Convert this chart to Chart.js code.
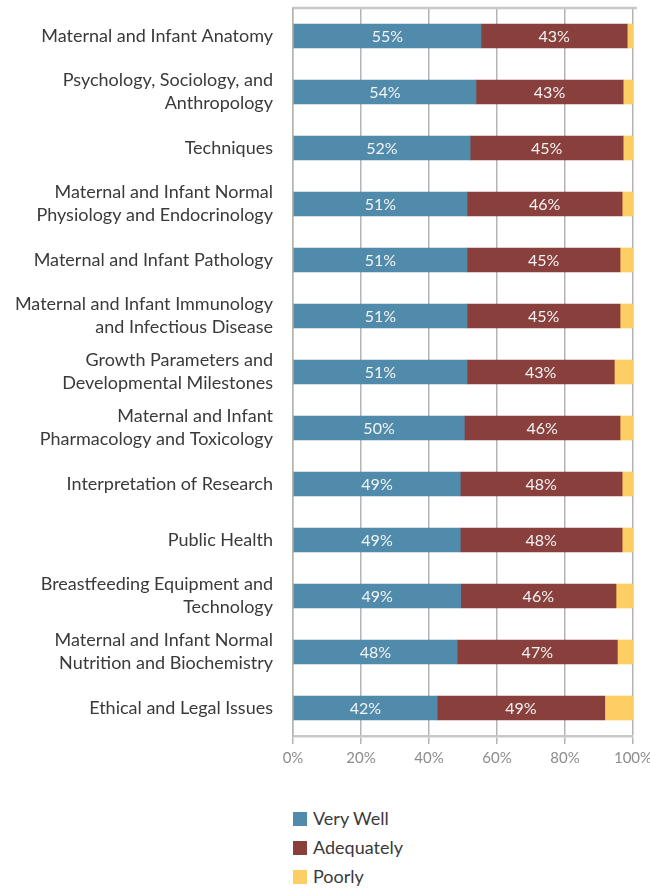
<!DOCTYPE html>
<html lang="en">
<head>
    <meta charset="UTF-8">
    <title>Preparedness by Topic</title>
    <script src="https://cdn.jsdelivr.net/npm/chart.js@4.4.0/dist/chart.umd.min.js"></script>
    <style>
        body { margin: 0; background: #fff; font-family: Lato, "Open Sans", sans-serif; }
        #wrap { position: relative; width: 650px; height: 780px; }
        #legend { position: absolute; left: 293px; top: 804px; list-style: none; margin: 0; padding: 0; }
        #legend li { height: 29px; line-height: 29px; font-size: 18px; color: #3a3a3a; display: flex; align-items: center; }
        #legend span { display: inline-block; width: 14px; height: 14px; margin-right: 6px; }
    </style>
</head>
<body>
    <div id="wrap">
        <canvas id="myChart"></canvas>
    </div>
    <ul id="legend"></ul>

<script type="text/javascript">
    let topics = [
        'Maternal and Infant Anatomy',
        ['Psychology, Sociology, and', 'Anthropology'],
        'Techniques',
        ['Maternal and Infant Normal', 'Physiology and Endocrinology'],
        'Maternal and Infant Pathology',
        ['Maternal and Infant Immunology', 'and Infectious Disease'],
        ['Growth Parameters and', 'Developmental Milestones'],
        ['Maternal and Infant', 'Pharmacology and Toxicology'],
        'Interpretation of Research',
        'Public Health',
        ['Breastfeeding Equipment and', 'Technology'],
        ['Maternal and Infant Normal', 'Nutrition and Biochemistry'],
        'Ethical and Legal Issues'
    ];
    let veryWell   = [55.3, 53.8, 52.1, 51.2, 51.2, 51.2, 51.2, 50.4, 49.2, 49.2, 49.3, 48.3, 42.4];
    let adequately = [43.0, 43.3, 45.0, 45.6, 45.0, 45.0, 43.3, 45.8, 47.6, 47.6, 45.7, 47.1, 49.3];
    let poorly     = [1.7, 2.9, 2.9, 3.2, 3.8, 3.8, 5.5, 3.8, 3.2, 3.2, 5.0, 4.6, 8.3];
    let seriesNames = ['Very Well', 'Adequately', 'Poorly'];
    let seriesColors = ['#518bac', '#893f3b', '#fecd63'];
    let xTicks = [0, 20, 40, 60, 80, 100];

    // % labels in the middle of the first two segments, plus the top frame line
    let barLabels = {
        id: 'barLabels',
        afterDraw: function (chart) {
            let a = chart.chartArea;
            let ctx = chart.ctx;
            ctx.save();
            ctx.strokeStyle = '#c8c8c8';
            ctx.lineWidth = 2.5;
            ctx.beginPath();
            ctx.moveTo(a.left, a.top);
            ctx.lineTo(a.right + 4, a.top);
            ctx.stroke();

            ctx.font = '16px Lato, "Open Sans", sans-serif';
            ctx.fillStyle = '#f4f4f4';
            ctx.textAlign = 'center';
            ctx.textBaseline = 'middle';
            [0, 1].forEach(function (di) {
                let meta = chart.getDatasetMeta(di);
                meta.data.forEach(function (bar, i) {
                    let v = chart.data.datasets[di].data[i];
                    let mid = (bar.x + bar.base) / 2;
                    ctx.fillText(Math.round(v) + '%', mid, bar.y + 1);
                });
            });
            ctx.restore();
        }
    };

    let ctx = document.getElementById('myChart').getContext('2d');
    let chart = new Chart(ctx, {
        type: 'bar',
        data: {
            labels: topics,
            datasets: [veryWell, adequately, poorly].map(function (d, i) {
                return {
                    label: seriesNames[i],
                    data: d,
                    backgroundColor: seriesColors[i],
                    barThickness: 24
                };
            })
        },
        options: {
            indexAxis: 'y',
            responsive: true,
            maintainAspectRatio: false,
            animation: false,
            layout: { padding: { top: 8, right: 0, bottom: 8, left: 0 } },
            plugins: {
                legend: { display: false },
                tooltip: { enabled: false }
            },
            scales: {
                x: {
                    stacked: true,
                    min: 0,
                    max: 100,
                    afterBuildTicks: function (scale) {
                        scale.ticks = xTicks.map(function (v) { return { value: v }; });
                    },
                    afterFit: function (scale) {
                        scale.paddingLeft = 0;
                        scale.paddingRight = 17;
                    },
                    ticks: {
                        callback: function (v) { return v + '%'; },
                        color: '#8c8c8c',
                        font: { family: 'Lato', size: 15 },
                        padding: 5
                    },
                    grid: { color: '#b4b4b4', lineWidth: 1.5, tickLength: 8 },
                    border: { color: '#c8c8c8', width: 2.5 }
                },
                y: {
                    stacked: true,
                    afterFit: function (scale) {
                        scale.width = 293;
                        scale.paddingTop = 0;
                        scale.paddingBottom = 0;
                    },
                    ticks: {
                        color: '#3a3a3a',
                        font: { family: 'Lato', size: 18, lineHeight: 1.28 },
                        padding: 20,
                        autoSkip: false
                    },
                    grid: { display: false, drawTicks: false },
                    border: { color: '#b4b4b4', width: 1.5 }
                }
            }
        },
        plugins: [barLabels]
    });

    // legend list under the chart
    let legend = document.getElementById('legend');
    chart.data.datasets.forEach(function (ds) {
        let li = document.createElement('li');
        li.innerHTML = '<span style="background:' + ds.backgroundColor + '"></span>' + ds.label;
        legend.appendChild(li);
    });
</script>
</body>
</html>
